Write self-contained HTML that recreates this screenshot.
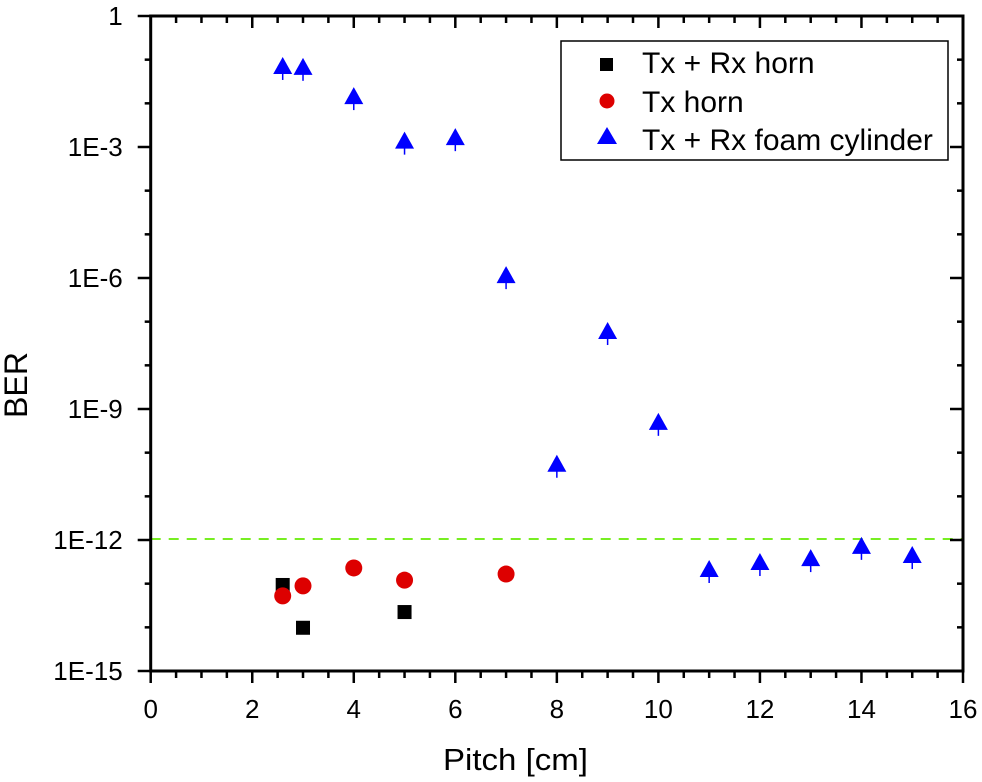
<!DOCTYPE html>
<html><head><meta charset="utf-8"><style>
html,body{margin:0;padding:0;background:#fff}
svg{display:block;font-family:"Liberation Sans",Arial,sans-serif}
</style></head><body>
<svg id="chart" width="982" height="782" viewBox="0 0 982 782">
<line x1="150.7" x2="963" y1="539" y2="539" stroke="#77ee22" stroke-width="2" stroke-dasharray="10,8"/>
<g id="axes"></g>
<g id="marks"></g>
<text x="515.5" y="770" font-size="31" text-anchor="middle" textLength="145" lengthAdjust="spacingAndGlyphs">Pitch [cm]</text>
<text transform="translate(27,385) rotate(-90)" font-size="32" text-anchor="middle" textLength="66" lengthAdjust="spacingAndGlyphs">BER</text>
<g>
<rect x="561" y="41" width="387" height="119" fill="#fff" stroke="#000" stroke-width="1.5"/>
<g><rect x="600" y="58" width="13" height="13" fill="#000"/><text x="642" y="73" font-size="30">Tx + Rx horn</text></g>
<g><circle cx="607" cy="101" r="7.5" fill="#dd0000"/><text x="642" y="112" font-size="30">Tx horn</text></g>
<g><polygon points="607,127 617,144 597,144" fill="#0000ff"/><text x="642" y="150" font-size="30">Tx + Rx foam cylinder</text></g>
</g>
</svg>
<script>
const sqX=[2.6,3,5];
const sqY=[-13.03,-14.01,-13.65];
const ciX=[2.6,3,4,5,7];
const ciY=[-13.28,-13.05,-12.64,-12.92,-12.78];
const trX=[2.6,3,4,5,6,7,8,9,10,11,12,13,14,15];
const trY=[-1.19,-1.21,-1.88,-2.9,-2.82,-5.98,-10.3,-7.26,-9.34,-12.71,-12.55,-12.46,-12.18,-12.39];
const xTicks=[0,2,4,6,8,10,12,14,16];
const yTicks=[0,-3,-6,-9,-12,-15];
const yLabels=["1","1E-3","1E-6","1E-9","1E-12","1E-15"];
const L=150.7,R=963,T=16,B=671;
const sx=v=>L+(v-0)/16*(R-L);
const sy=e=>T+(0-e)/15*(B-T);
const NS="http://www.w3.org/2000/svg";
function mk(tag,attrs,parent){const e=document.createElementNS(NS,tag);for(const k in attrs)e.setAttribute(k,attrs[k]);parent.appendChild(e);return e;}
const axes=document.getElementById('axes'),marks=document.getElementById('marks');
const frame=mk('rect',{x:L,y:T,width:R-L,height:B-T,fill:'none',stroke:'#000','stroke-width':3},axes);


for(let v=0;v<=16.001;v+=0.5){
  const maj=Math.abs(v/2-Math.round(v/2))<1e-6;const len=maj?12:7;const x=sx(v);
  const t=mk('line',{x1:x,x2:x,y1:B,y2:B+len,stroke:'#000','stroke-width':2.5},axes);
  
  
  const t2=mk('line',{x1:x,x2:x,y1:T,y2:T+len,stroke:'#000','stroke-width':2.5},axes);
  
  
}
xTicks.forEach(v=>{const t=mk('text',{x:sx(v),y:B+47,'font-size':26,'text-anchor':'middle'},axes);t.textContent=v;
  
  });
for(let e=0;e>=-15;e--){
  const maj=e%3===0;const len=maj?13:6;const y=sy(e);
  const t=mk('line',{x1:L-len,x2:L,y1:y,y2:y,stroke:'#000','stroke-width':2.5},axes);
  
  
  const t2=mk('line',{x1:R-len,x2:R,y1:y,y2:y,stroke:'#000','stroke-width':2.5},axes);
  
  
}
yTicks.forEach((e,i)=>{const t=mk('text',{x:L-28,y:sy(e)+9,'font-size':26,'text-anchor':'end'},axes);t.textContent=yLabels[i];
  
  });
sqX.forEach((x,i)=>{const r=mk('rect',{x:sx(x)-7,y:sy(sqY[i])-7,width:14,height:14,fill:'#000'},marks);
  
  });
ciX.forEach((x,i)=>{const c=mk('circle',{cx:sx(x),cy:sy(ciY[i]),r:8.5,fill:'#dd0000'},marks);
  
  });
trX.forEach((x,i)=>{const cx=sx(x),cy=sy(trY[i]);
  const g=mk('g',{},marks);
  
  
  mk('line',{x1:cx,x2:cx,y1:cy,y2:cy+12,stroke:'#0000ff','stroke-width':1.5},g);
  mk('polygon',{points:`${cx},${cy-11} ${cx+9.5},${cy+6} ${cx-9.5},${cy+6}`,fill:'#0000ff'},g);});
</script>
</body></html>
